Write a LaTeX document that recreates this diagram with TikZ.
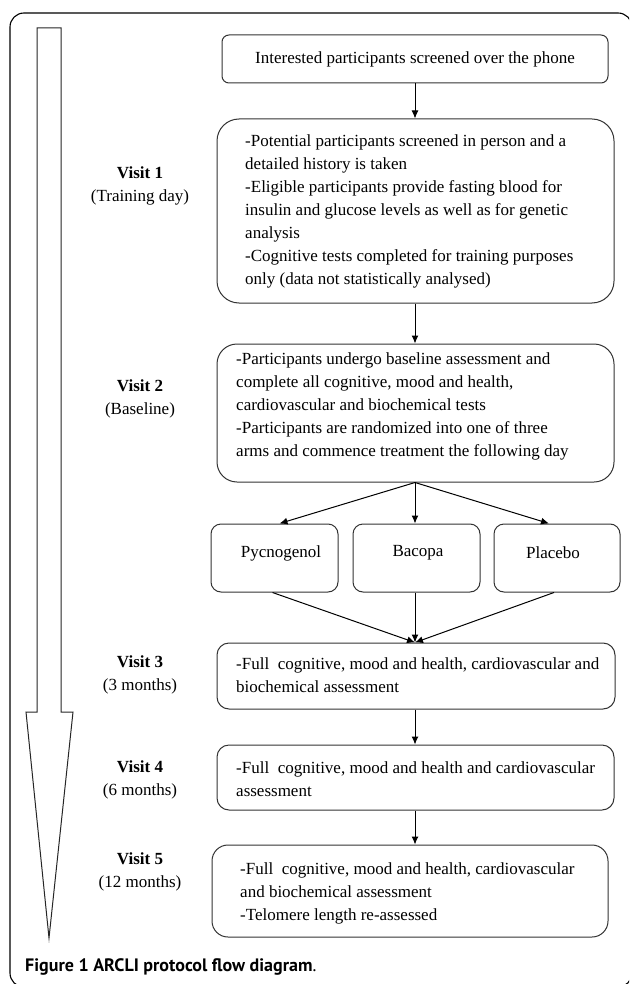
\documentclass[tikz,border=0pt]{standalone}
\usepackage{fontspec}
\setmainfont{Liberation Serif}
\newfontfamily\capfont{PT Sans}
\usetikzlibrary{arrows.meta}
\tikzset{
  box/.style={draw=black!80, line width=1pt, rounded corners=#1, inner sep=0pt},
  box/.default=8pt,
  txt/.style={inner sep=0pt, align=left, anchor=west, font=\fontsize{17}{23}\selectfont},
  ctxt/.style={inner sep=0pt, align=center, font=\fontsize{17}{23}\selectfont},
  vlab/.style={inner sep=0pt, align=center, font=\fontsize{17}{23}\selectfont},
  conn/.style={line width=1pt, -{Latex[length=8pt,width=7pt]}},
  bigarrow/.style={draw=black!85, line width=1pt}
}
\begin{document}
\begin{tikzpicture}[x=1pt,y=-1pt]
\clip (0,0) rectangle (629,984);
\fill[white] (0,0) rectangle (629,984);
% outer frame
\draw[line width=1.1pt, rounded corners=14pt] (10,13) rectangle (632,987);
% big time arrow
\draw[bigarrow] (37,28) -- (61,28) -- (61,712) -- (73,712) -- (49,938) -- (26,712) -- (37,712) -- cycle;
% boxes
\node[box=7pt, minimum width=386pt, minimum height=48pt] (A) at (415,59) {};
\node[ctxt] (At) at (415,59) {Interested participants screened over the phone};
\node[box=22pt, minimum width=397pt, minimum height=184pt] (V1) at (415.5,211) {};
\node[txt] (V1t) at (245,211) {-Potential participants screened in person and a\\
detailed history is taken\\
-Eligible participants provide fasting blood for\\
insulin and glucose levels as well as for genetic\\
analysis\\
-Cognitive tests completed for training purposes\\
only (data not statistically analysed)};
\node[box=20pt, minimum width=397pt, minimum height=138pt] (V2) at (415.5,413) {};
\node[txt] (V2t) at (236,406) {-Participants undergo baseline assessment and\\
complete all cognitive, mood and health,\\
cardiovascular and biochemical tests\\
-Participants are randomized into one of three\\
arms and commence treatment the following day};
\node[box=10pt, minimum width=127pt, minimum height=68pt] (P) at (274.5,558) {};
\node[ctxt] (Pt) at (281,553) {Pycnogenol};
\node[box=10pt, minimum width=127pt, minimum height=68pt] (B) at (416.5,558) {};
\node[ctxt] (Bt) at (418,553) {Bacopa};
\node[box=10pt, minimum width=126pt, minimum height=68pt] (PL) at (557,558) {};
\node[ctxt] (PLt) at (553,553) {Placebo};
\node[box=12pt, minimum width=398pt, minimum height=66pt] (V3) at (416,676) {};
\node[txt] (V3t) at (236,675) {-Full\ \ cognitive, mood and health, cardiovascular and\\
biochemical assessment};
\node[box=12pt, minimum width=397pt, minimum height=65pt] (V4) at (415.5,777.5) {};
\node[txt] (V4t) at (236,779) {-Full\ \ cognitive, mood and health and cardiovascular\\
assessment};
\node[box=16pt, minimum width=396pt, minimum height=92pt] (V5) at (410,891) {};
\node[txt] (V5t) at (240,893) {-Full\ \ cognitive, mood and health, cardiovascular\\
and biochemical assessment\\
-Telomere length re-assessed};
% visit labels
\node[vlab] (L1) at (140,186) {\textbf{Visit 1}\\(Training day)};
\node[vlab] (L2) at (140,399) {\textbf{Visit 2}\\(Baseline)};
\node[vlab] (L3) at (140,675) {\textbf{Visit 3}\\(3 months)};
\node[vlab] (L4) at (140,780) {\textbf{Visit 4}\\(6 months)};
\node[vlab] (L5) at (140,872) {\textbf{Visit 5}\\(12 months)};
% connectors
\draw[conn] (A.south) -- (A.south |- V1.north);
\draw[conn] (A.south |- V1.south) -- (A.south |- V2.north);
\draw[conn] (A.south |- V2.south) -- ([xshift=5pt]P.north);
\draw[conn] (A.south |- V2.south) -- (A.south |- B.north);
\draw[conn] (A.south |- V2.south) -- ([xshift=-8pt]PL.north);
\draw[conn] ([xshift=-2pt]P.south) -- (A.south |- V3.north);
\draw[conn] (A.south |- B.south) -- (A.south |- V3.north);
\draw[conn] ([xshift=-3pt]PL.south) -- (A.south |- V3.north);
\draw[conn] (A.south |- V3.south) -- (A.south |- V4.north);
\draw[conn] (A.south |- V4.south) -- (A.south |- V5.north);
% caption
\node[inner sep=0pt, anchor=base west, font=\capfont\fontsize{18}{22}\selectfont] (cap) at (25,971) {\textbf{Figure 1 ARCLI protocol flow diagram}.};
\end{tikzpicture}
\end{document}
